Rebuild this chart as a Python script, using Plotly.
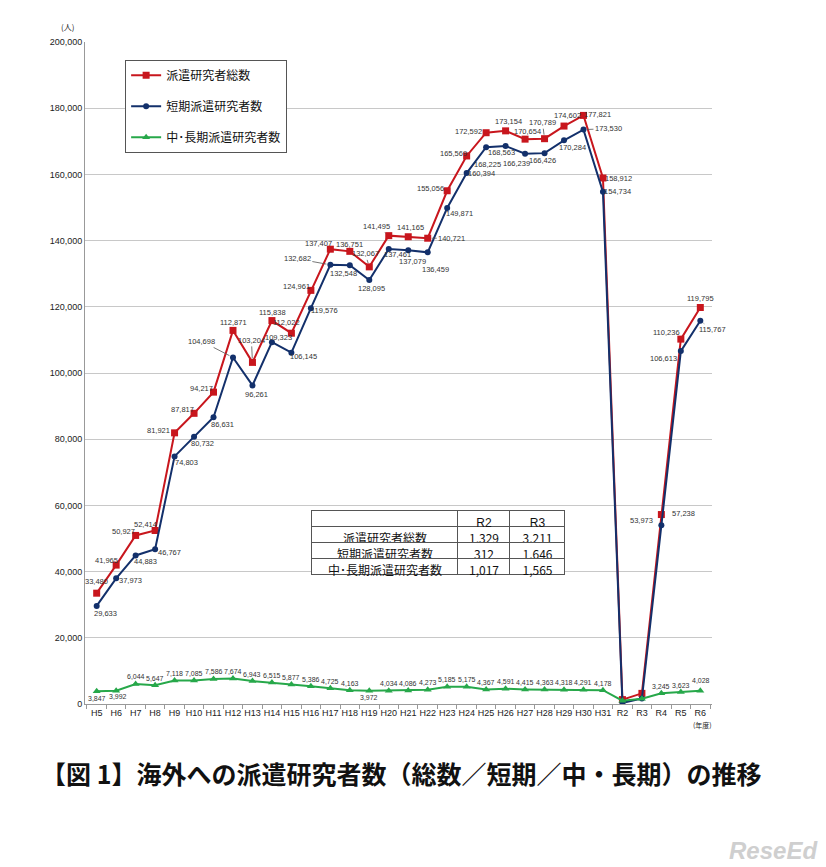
import plotly.graph_objects as go

categories = ["H5","H6","H7","H8","H9","H10","H11","H12","H13","H14","H15","H16","H17","H18","H19",
              "H20","H21","H22","H23","H24","H25","H26","H27","H28","H29","H30","H31",
              "R2","R3","R4","R5","R6"]

total = [33480,41965,50927,52414,81921,87817,94217,112871,103204,115838,112022,124961,137407,136751,132067,
         141495,141165,140721,155056,165569,172592,173154,170654,170789,174602,177821,158912,
         1329,3211,57238,110236,119795]
short_term = [29633,37973,44883,46767,74803,80732,86631,104698,96261,109323,106145,119576,132682,132548,128095,
              137461,137079,136459,149871,160394,168225,168563,166239,166426,170284,173530,154734,
              312,1646,53973,106613,115767]
long_term = [3847,3992,6044,5647,7118,7085,7586,7674,6943,6515,5877,5386,4725,4163,3972,
             4034,4086,4273,5185,5175,4367,4591,4415,4363,4318,4291,4178,
             1017,1565,3245,3623,4028]

table_rows = ["派遣研究者総数", "短期派遣研究者数", "中･長期派遣研究者数"]
table_r2 = ["1,329", "312", "1,017"]
table_r3 = ["3,211", "1,646", "1,565"]

series_names = ["派遣研究者総数", "短期派遣研究者数", "中･長期派遣研究者数"]

# label offsets in pixels (dx, dy; dy positive = down), None = no label; third item = leader line
off_total = [(0,-12),(-10,-5),(-12,-4),(-10,-6),(-16,-2),(-12,-4),(-12,-4),(1,-8),
             (-1,-22,1),(1,-8),(-5,-11),(-14,-4),(-12,-6),(0,-7),(-4,-13,1),
             (-12,-9,1),(2,-9),(24,0,1),(-17,-2),(-13,-2),(-18,-1),(3,-9),
             (2,-8),(-2,-16,1),(3,-11),(14,-1),(16,0),
             None,None,(22,-1),(-14,-7,1),(0,-9)]
off_short = [(9,8),(14,2),(10,6),(14,3),(12,6),(8,7),(9,7),(-31,-16,1),
             (4,9),(7,-5),(12,4),(14,2),(-33,-6,1),(-6,8),(2,8),
             (9,5),(4,11),(8,17,1),(12,6),(15,0),(1,17),(-4,6,1),
             (-9,10),(-2,7),(8,7),(25,-1,1),(15,0),
             None,None,(-20,-5),(-17,7),(12,9,1)]
off_long = [(0,7),(2,6)] + [(0,-7)]*12 + [(0,7)] + [(0,-7)]*12 + [None, None, (0,-7), (0,-7), (1,-10)]

lab_font = dict(size=7.5, color="#333333", family="Liberation Sans")
lab_font_small = dict(size=7, color="#333333", family="Liberation Sans")

fig = go.Figure()
fig.add_trace(go.Scatter(x=categories, y=total, name=series_names[0], mode="lines+markers",
                         line=dict(color="#C8161D", width=2), marker=dict(symbol="square", size=7, color="#C8161D"),
                         legendgroup="a"))
fig.add_trace(go.Scatter(x=categories, y=short_term, name=series_names[1], mode="lines+markers",
                         line=dict(color="#13306B", width=2), marker=dict(symbol="circle", size=6, color="#13306B"),
                         legendgroup="b"))
fig.add_trace(go.Scatter(x=categories, y=long_term, name=series_names[2], mode="lines+markers",
                         line=dict(color="#27A84A", width=2), marker=dict(symbol="triangle-up", size=7, color="#27A84A"),
                         legendgroup="c"))

annotations = []
for vals, offs, fnt in ((total, off_total, lab_font), (short_term, off_short, lab_font),
                        (long_term, off_long, lab_font_small)):
    for c, v, o in zip(categories, vals, offs):
        if o is None:
            continue
        leader = len(o) > 2
        annotations.append(dict(
            x=c, y=v, xref="x", yref="y", text=f"{v:,}", showarrow=True,
            ax=o[0], ay=o[1], axref="pixel", ayref="pixel",
            arrowhead=0, arrowwidth=0.8, standoff=4, startstandoff=0,
            arrowcolor="#555555" if leader else "rgba(0,0,0,0)",
            font=fnt))

fig.add_trace(go.Table(
    domain=dict(x=[0.362, 0.766], y=[0.19, 0.293]),
    columnwidth=[146, 52, 55],
    header=dict(values=["", "R2", "R3"], height=16, align="center",
                font=dict(size=12, color="#111111", family="Liberation Sans"),
                fill_color="white", line=dict(color="#555555", width=1)),
    cells=dict(values=[table_rows, table_r2, table_r3], height=16, align="center",
               font=dict(size=12, color="#111111", family="Noto Sans CJK JP"),
               fill_color="white", line=dict(color="#555555", width=1)),
))

annotations += [
    dict(text="(人)", xref="paper", yref="paper", x=-0.015, y=1.035, showarrow=False,
         font=dict(size=8, color="#222222"), xanchor="right"),
    dict(text="(年度)", xref="paper", yref="paper", x=0.985, y=-0.043, showarrow=False,
         font=dict(size=7, color="#222222"), xanchor="center"),
    dict(text="【図 1】海外への派遣研究者数（総数／短期／中・長期）の推移", xref="paper", yref="paper",
         x=(401 - 85) / 627, y=-(773 - 704) / 662, showarrow=False, xanchor="center", yanchor="middle",
         font=dict(size=25, color="#111111", family="Noto Sans CJK JP", weight="bold")),
    dict(text="<b><i>ReseEd</i></b>", xref="paper", yref="paper",
         x=(820 - 85) / 627, y=-(850 - 704) / 662, showarrow=False, xanchor="right", yanchor="middle",
         font=dict(size=24, color="#CFCFCF", family="Liberation Sans")),
]

fig.update_layout(
    width=826, height=867,
    margin=dict(l=85, r=114, t=42, b=163),
    paper_bgcolor="white", plot_bgcolor="white",
    font=dict(family="Noto Sans CJK JP", color="#222222"),
    showlegend=True,
    legend=dict(x=0.064, y=0.973, xanchor="left", yanchor="top",
                bordercolor="#555555", borderwidth=1, bgcolor="white",
                font=dict(size=12, color="#111111", family="Noto Sans CJK JP"),
                tracegroupgap=12, itemwidth=30),
    xaxis=dict(type="category", categoryorder="array", categoryarray=categories,
               range=[-0.6, 31.6], showgrid=False, showline=True, linecolor="#999999",
               ticks="outside", tickson="boundaries", ticklen=4, tickcolor="#999999", tickangle=0,
               tickfont=dict(size=9, color="#222222", family="Liberation Sans")),
    yaxis=dict(range=[0, 200000], dtick=20000, tickformat=",", showgrid=True, gridcolor="#C8C8C8",
               showline=True, linecolor="#999999", zeroline=False,
               tickfont=dict(size=9, color="#222222", family="Liberation Sans")),
    annotations=annotations,
)

fig.write_html("out.html")
